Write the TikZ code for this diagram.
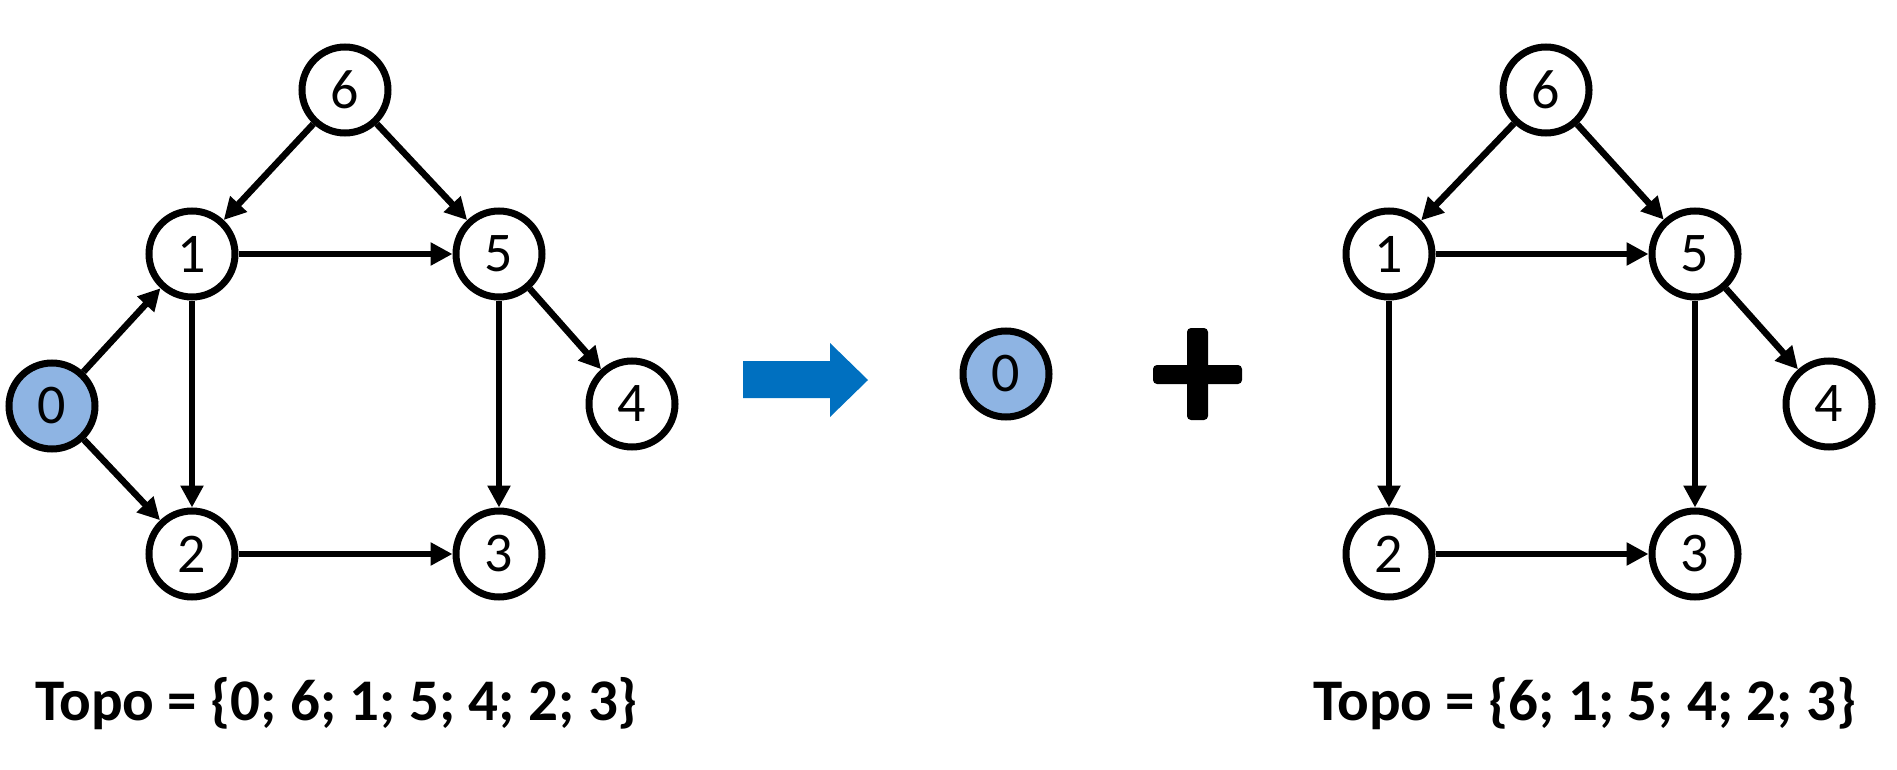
\documentclass[tikz,border=0pt]{standalone}
\usepackage{fontspec}
\setmainfont{Carlito}
\usetikzlibrary{arrows.meta}
\definecolor{nodeblue}{HTML}{8EB4E3}
\definecolor{arrowblue}{HTML}{0070C0}
\tikzset{
  vtx/.style={circle, draw=black, line width=7pt, minimum size=86pt, inner sep=0pt, fill=white,
    font=\fontsize{56}{60}\selectfont},
  vtxsel/.style={vtx, fill=nodeblue},
  edge/.style={line width=6.5pt, -{Triangle[length=22pt,width=22pt]}},
  topo/.style={anchor=base west, inner sep=0pt, font=\bfseries\fontsize{59}{70}\selectfont}
}
\begin{document}
\begin{tikzpicture}[x=1pt,y=-1pt]
\useasboundingbox (0,0) rectangle (1897,770);
% left graph
\node[vtx] (L6) at (345,90) {6};
\node[vtx] (L1) at (192,254) {1};
\node[vtx] (L5) at (499,254) {5};
\node[vtxsel] (L0) at (52,406) {0};
\node[vtx] (L4) at (632,404) {4};
\node[vtx] (L2) at (192,554) {2};
\node[vtx] (L3) at (499,554) {3};
\foreach \a/\b in {6/1,6/5,1/5,0/1,0/2,1/2,5/4,5/3,2/3}
  \draw[edge] (L\a) -- (L\b);
% right graph
\node[vtx] (R6) at (1546,90) {6};
\node[vtx] (R1) at (1389,254) {1};
\node[vtx] (R5) at (1695,254) {5};
\node[vtx] (R4) at (1829,404) {4};
\node[vtx] (R2) at (1389,554) {2};
\node[vtx] (R3) at (1695,554) {3};
\foreach \a/\b in {6/1,6/5,1/5,1/2,5/4,5/3,2/3}
  \draw[edge] (R\a) -- (R\b);
% big arrow
\fill[arrowblue] (743,361) -- (830,361) -- (830,343) -- (868,380) -- (830,417) -- (830,398) -- (743,398) -- cycle;
% isolated 0
\node[vtxsel] (M0) at (1006,374) {0};
% plus
\fill[black, rounded corners=4pt] (1187,328) rectangle (1208,420);
\fill[black, rounded corners=4pt] (1153,365) rectangle (1242,384);
% texts
\node[topo] (t1) at (35,720) {Topo = \{0; 6; 1; 5; 4; 2; 3\}};
\node[topo] (t2) at (1313,720) {Topo = \{6; 1; 5; 4; 2; 3\}};
\end{tikzpicture}
\end{document}
